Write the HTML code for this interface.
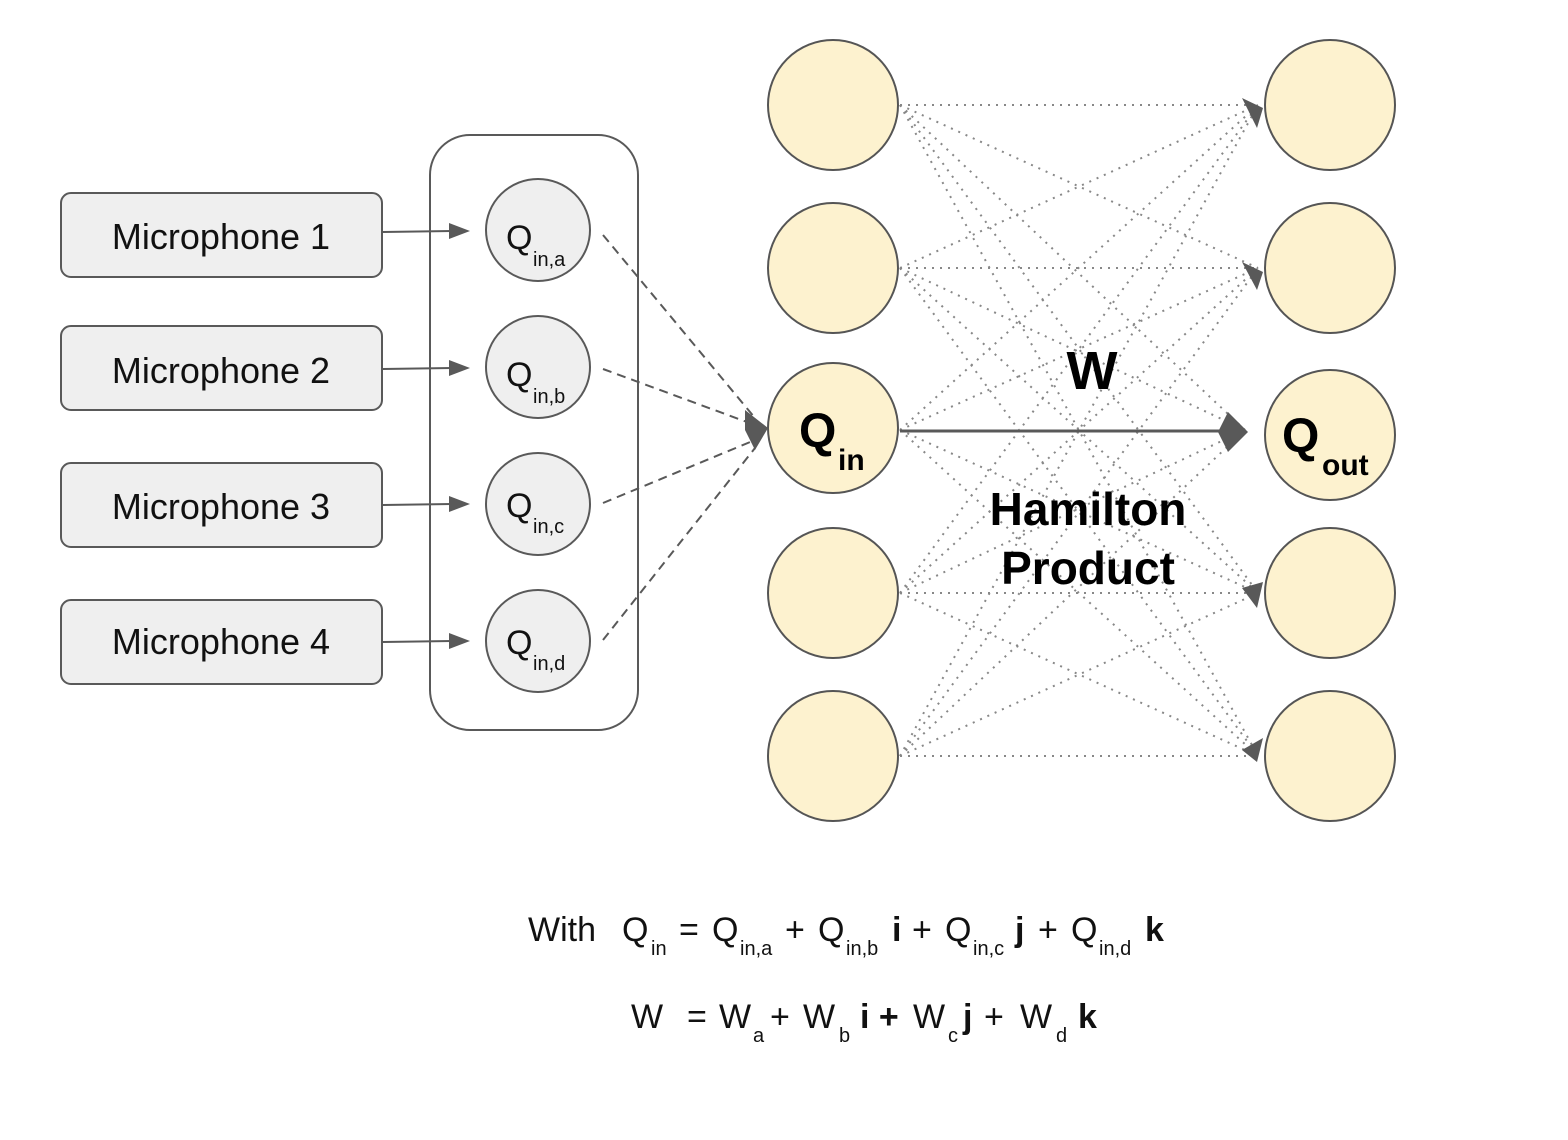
<!DOCTYPE html>
<html><head><meta charset="utf-8"><style>
html,body{margin:0;padding:0;background:#fff;}
svg{display:block;font-family:"Liberation Sans",Arial,sans-serif;}
</style></head><body>
<svg width="1568" height="1140" viewBox="0 0 1568 1140" xmlns="http://www.w3.org/2000/svg">
<rect width="1568" height="1140" fill="#fff"/>
<g stroke="#888" stroke-width="2" stroke-dasharray="2,6" fill="none">
<line x1="900" y1="105" x2="1258" y2="105"/><line x1="900" y1="105" x2="1258" y2="268"/><line x1="900" y1="105" x2="1245" y2="430"/><line x1="900" y1="105" x2="1258" y2="593"/><line x1="900" y1="105" x2="1258" y2="756"/>
<line x1="900" y1="268" x2="1258" y2="105"/><line x1="900" y1="268" x2="1258" y2="268"/><line x1="900" y1="268" x2="1245" y2="430"/><line x1="900" y1="268" x2="1258" y2="593"/><line x1="900" y1="268" x2="1258" y2="756"/>
<line x1="900" y1="430" x2="1258" y2="105"/><line x1="900" y1="430" x2="1258" y2="268"/><line x1="900" y1="430" x2="1258" y2="593"/><line x1="900" y1="430" x2="1258" y2="756"/>
<line x1="900" y1="593" x2="1258" y2="105"/><line x1="900" y1="593" x2="1258" y2="268"/><line x1="900" y1="593" x2="1245" y2="430"/><line x1="900" y1="593" x2="1258" y2="593"/><line x1="900" y1="593" x2="1258" y2="756"/>
<line x1="900" y1="756" x2="1258" y2="105"/><line x1="900" y1="756" x2="1258" y2="268"/><line x1="900" y1="756" x2="1245" y2="430"/><line x1="900" y1="756" x2="1258" y2="593"/><line x1="900" y1="756" x2="1258" y2="756"/>
</g>
<g fill="#595959">
<path d="M1242,98 L1263,108 L1257,128z"/>
<path d="M1242,262 L1263,272 L1257,290z"/>
<path d="M1242,588 L1263,582 L1257,608z"/>
<path d="M1242,750 L1263,738 L1257,762z"/>
<path d="M1228,412 L1248,432 L1228,452 L1218,432z"/>
</g>
<line x1="900" y1="431" x2="1222" y2="431" stroke="#595959" stroke-width="3"/>
<g fill="#fdf2cf" stroke="#555" stroke-width="2">
<ellipse cx="833" cy="105" rx="65" ry="65"/>
<ellipse cx="833" cy="268" rx="65" ry="65"/>
<ellipse cx="833" cy="428" rx="65" ry="65"/>
<ellipse cx="833" cy="593" rx="65" ry="65"/>
<ellipse cx="833" cy="756" rx="65" ry="65"/>
<ellipse cx="1330" cy="105" rx="65" ry="65"/>
<ellipse cx="1330" cy="268" rx="65" ry="65"/>
<ellipse cx="1330" cy="435" rx="65" ry="65"/>
<ellipse cx="1330" cy="593" rx="65" ry="65"/>
<ellipse cx="1330" cy="756" rx="65" ry="65"/>
</g>
<text x="799" y="447" font-size="48" font-weight="bold">Q</text><text x="838" y="470" font-size="30" font-weight="bold">in</text>
<text x="1282" y="452" font-size="48" font-weight="bold">Q</text><text x="1322" y="475" font-size="30" font-weight="bold">out</text>
<text x="1092" y="389" font-size="54" font-weight="bold" text-anchor="middle">W</text>
<text x="1088" y="525" font-size="46" font-weight="bold" text-anchor="middle">Hamilton</text>
<text x="1088" y="584" font-size="46" font-weight="bold" text-anchor="middle">Product</text>
<rect x="430" y="135" width="208" height="595" rx="40" fill="none" stroke="#595959" stroke-width="2"/>
<g fill="#efefef" stroke="#595959" stroke-width="2">
<rect x="61" y="193" width="321" height="84" rx="10"/>
<rect x="61" y="326" width="321" height="84" rx="10"/>
<rect x="61" y="463" width="321" height="84" rx="10"/>
<rect x="61" y="600" width="321" height="84" rx="10"/>
</g>
<g font-size="36" fill="#111" text-anchor="middle">
<text x="221" y="249">Microphone 1</text>
<text x="221" y="383">Microphone 2</text>
<text x="221" y="519">Microphone 3</text>
<text x="221" y="654">Microphone 4</text>
</g>
<g stroke="#595959" stroke-width="2">
<line x1="383" y1="232" x2="452" y2="231"/>
<line x1="383" y1="369" x2="452" y2="368"/>
<line x1="383" y1="505" x2="452" y2="504"/>
<line x1="383" y1="642" x2="452" y2="641"/>
</g>
<g fill="#595959">
<path d="M449,223 L470,231 L449,239z"/>
<path d="M449,360 L470,368 L449,376z"/>
<path d="M449,496 L470,504 L449,512z"/>
<path d="M449,633 L470,641 L449,649z"/>
</g>
<g fill="#efefef" stroke="#595959" stroke-width="2">
<ellipse cx="538" cy="230" rx="52" ry="51"/>
<ellipse cx="538" cy="367" rx="52" ry="51"/>
<ellipse cx="538" cy="504" rx="52" ry="51"/>
<ellipse cx="538" cy="641" rx="52" ry="51"/>
</g>
<g fill="#111">
<text x="506" y="249" font-size="34">Q</text><text x="533" y="266" font-size="20">in,a</text>
<text x="506" y="386" font-size="34">Q</text><text x="533" y="403" font-size="20">in,b</text>
<text x="506" y="517" font-size="34">Q</text><text x="533" y="533" font-size="20">in,c</text>
<text x="506" y="654" font-size="34">Q</text><text x="533" y="670" font-size="20">in,d</text>
</g>
<g stroke="#595959" stroke-width="2" stroke-dasharray="9,6" fill="none">
<line x1="603" y1="235" x2="755" y2="418"/>
<line x1="603" y1="369" x2="755" y2="425"/>
<line x1="603" y1="503" x2="755" y2="440"/>
<line x1="603" y1="640" x2="755" y2="448"/>
</g>
<path d="M745,410 L768,428 L755,450 L745,430z" fill="#595959"/>
<g font-size="34" fill="#111">
<text x="528" y="941">With</text>
<text x="622" y="941">Q</text><text x="651" y="955" font-size="20">in</text>
<text x="679" y="941">=</text><text x="712" y="941">Q</text><text x="740" y="955" font-size="20">in,a</text>
<text x="785" y="941">+</text><text x="818" y="941">Q</text><text x="846" y="955" font-size="20">in,b</text>
<text x="892" y="941" font-weight="bold">i</text><text x="912" y="941">+</text><text x="945" y="941">Q</text><text x="973" y="955" font-size="20">in,c</text>
<text x="1015" y="941" font-weight="bold">j</text><text x="1038" y="941">+</text><text x="1071" y="941">Q</text><text x="1099" y="955" font-size="20">in,d</text>
<text x="1145" y="941" font-weight="bold">k</text>
<text x="631" y="1028">W</text>
<text x="687" y="1028">=</text><text x="719" y="1028">W</text><text x="753" y="1042" font-size="20">a</text>
<text x="770" y="1028">+</text><text x="803" y="1028">W</text><text x="839" y="1042" font-size="20">b</text>
<text x="860" y="1028" font-weight="bold">i +</text><text x="913" y="1028">W</text><text x="948" y="1042" font-size="20">c</text>
<text x="963" y="1028" font-weight="bold">j</text><text x="984" y="1028">+</text><text x="1020" y="1028">W</text><text x="1056" y="1042" font-size="20">d</text>
<text x="1078" y="1028" font-weight="bold">k</text>
</g>
</svg>
</body></html>
